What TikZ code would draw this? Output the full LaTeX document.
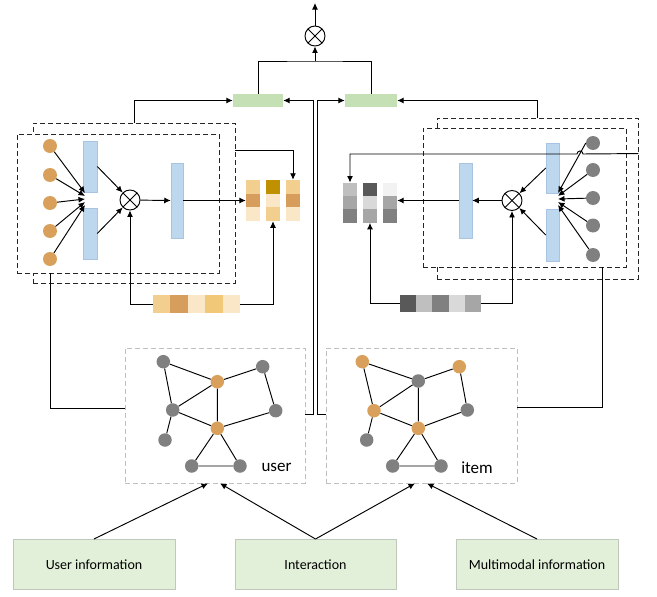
\documentclass[tikz,border=0pt]{standalone}
\usepackage{fontspec}
\setmainfont{Carlito}
\usetikzlibrary{arrows.meta}
\definecolor{barblue}{HTML}{BDD7EE}
\definecolor{barblueline}{HTML}{A9C4E0}
\definecolor{topgreen}{HTML}{C5E0B4}
\definecolor{boxgreen}{HTML}{E2F0D9}
\definecolor{boxline}{HTML}{C0C8BC}
\definecolor{dotorange}{HTML}{D9A05B}
\definecolor{dotgray}{HTML}{808080}
\definecolor{oA}{HTML}{F2CF8E}
\definecolor{oB}{HTML}{D69D5C}
\definecolor{oC}{HTML}{FAE7C8}
\definecolor{oD}{HTML}{BF9000}
\definecolor{oE}{HTML}{F0C878}
\definecolor{gA}{HTML}{BFBFBF}
\definecolor{gB}{HTML}{A6A6A6}
\definecolor{gC}{HTML}{808080}
\definecolor{gD}{HTML}{595959}
\definecolor{gE}{HTML}{D9D9D9}
\definecolor{gF}{HTML}{F2F2F2}
\begin{document}
\begin{tikzpicture}[x=1pt,y=-1pt,
  >={Latex[length=6.5pt,width=6pt]},
  conn/.style={draw=black,line width=0.95pt},
  otimes/.style={circle,draw,line width=0.95pt,minimum size=20pt,inner sep=0pt,fill=white,
    path picture={\draw[line width=0.95pt] (path picture bounding box.north west) -- (path picture bounding box.south east);
                  \draw[line width=0.95pt] (path picture bounding box.north east) -- (path picture bounding box.south west);}},
  bbar/.style={rectangle,fill=barblue,draw=barblueline,line width=0.5pt,inner sep=0pt},
  gbar/.style={rectangle,fill=topgreen,draw=none,inner sep=0pt,minimum width=50pt,minimum height=13pt},
  odot/.style={circle,fill=dotorange,draw=none,inner sep=0pt,minimum size=14pt},
  gdot/.style={circle,fill=dotgray,draw=none,inner sep=0pt,minimum size=14pt},
  ognode/.style={circle,fill=dotorange,draw=none,inner sep=0pt,minimum size=13.5pt},
  ggnode/.style={circle,fill=dotgray,draw=none,inner sep=0pt,minimum size=13.5pt},
  lcell/.style={rectangle,draw=none,inner sep=0pt,minimum width=14pt,minimum height=13.7pt},
  rcell/.style={rectangle,draw=none,inner sep=0pt,minimum width=14pt,minimum height=13.4pt},
  lstripcell/.style={rectangle,draw=none,inner sep=0pt,minimum width=17.4pt,minimum height=18pt},
  rstripcell/.style={rectangle,draw=none,inner sep=0pt,minimum width=16.2pt,minimum height=17pt},
  modbox/.style={rectangle,draw=black!85,dash pattern=on 5pt off 3pt,line width=0.9pt,inner sep=0pt},
  graphbox/.style={rectangle,draw=gA,dash pattern=on 5pt off 3pt,line width=0.8pt,inner sep=0pt},
  infobox/.style={rectangle,fill=boxgreen,draw=boxline,line width=0.6pt,inner sep=0pt,
    minimum height=50pt,font=\fontsize{14}{16}\selectfont},
  glabel/.style={inner sep=0pt,font=\fontsize{17}{19}\selectfont},
  gedge/.style={draw=black,line width=0.95pt}
]
\useasboundingbox (0,0) rectangle (657,597);

% ---------------- top ----------------
\node[otimes] (top) at (315,36) {};
\coordinate (topout) at (315,3);
\coordinate (jn) at (315,61);
\node[gbar] (gl) at (258,100.5) {};
\node[gbar,minimum width=52pt] (gr) at (371,100.5) {};
\draw[conn,->] (top) -- (topout);
\draw[conn] (gl.north) |- (jn) -| (gr.north);
\draw[conn,->] (jn) -- (top.south);

% ---------------- left module ----------------
\node[modbox,minimum width=202pt,minimum height=160pt] (lback) at (134,203) {};
\node[modbox,fill=white,minimum width=202pt,minimum height=139pt] (lfront) at (118,203.5) {};

\node[odot] (lc1) at (50,146) {};
\node[odot] (lc2) at (50,175) {};
\node[odot] (lc3) at (50,203) {};
\node[odot] (lc4) at (50,231) {};
\node[odot] (lc5) at (50,259) {};
\node[bbar,minimum width=14pt,minimum height=51pt] (lb1) at (90,166.5) {};
\node[bbar,minimum width=14pt,minimum height=51pt] (lb2) at (90,233.5) {};
\node[bbar,minimum width=12pt,minimum height=75pt] (lb3) at (177,200.5) {};
\node[otimes] (lx) at (130,200) {};
\coordinate (lt1) at (85,193);
\coordinate (lt2) at (85,196);
\coordinate (lt3) at (85,199);
\coordinate (lt4) at (85,202);
\coordinate (lt5) at (85,205);
\draw[conn,->] (lc1) -- (lt1);
\draw[conn,->] (lc2) -- (lt2);
\draw[conn,->] (lc3) -- (lt3);
\draw[conn,->] (lc4) -- (lt4);
\draw[conn,->] (lc5) -- (lt5);
\draw[conn,->] (lb1.east) -- (lx);
\draw[conn,->] (lb2.east) -- (lx);
\draw[conn,->] (lx) -- (lb3.west);

% left colour blocks
\node[lcell,fill=oA] (lk11) at (253,186.8) {};
\node[lcell,fill=oB] (lk12) at (253,200.5) {};
\node[lcell,fill=oC] (lk13) at (253,214.2) {};
\node[lcell,fill=oD] (lk21) at (273,186.8) {};
\node[lcell,fill=oC] (lk22) at (273,200.5) {};
\node[lcell,fill=oA] (lk23) at (273,214.2) {};
\node[lcell,fill=oA] (lk31) at (293,186.8) {};
\node[lcell,fill=oB] (lk32) at (293,200.5) {};
\node[lcell,fill=oC] (lk33) at (293,214.2) {};
\draw[conn,->] (lb3.east) -- (lk12.west);
\draw[conn,->] ([yshift=-28pt]lback.north east) -| (lk31.north);

% left strip
\node[lstripcell,fill=oA] (ls1) at (161.7,304) {};
\node[lstripcell,fill=oB] (ls2) at (179.1,304) {};
\node[lstripcell,fill=oC] (ls3) at (196.5,304) {};
\node[lstripcell,fill=oE] (ls4) at (213.9,304) {};
\node[lstripcell,fill=oC] (ls5) at (231.3,304) {};
\draw[conn,->] (ls1.west) -| (lx.south);
\draw[conn,->] (ls5.east) -| (lk23.south);

% ---------------- right module ----------------
\node[modbox,minimum width=201pt,minimum height=161pt] (rback) at (537.5,198.5) {};
\node[modbox,fill=white,minimum width=203pt,minimum height=139pt] (rfront) at (524.5,197.5) {};

\node[gdot] (rc1) at (593,143) {};
\node[gdot] (rc2) at (593,170) {};
\node[gdot] (rc3) at (593,198) {};
\node[gdot] (rc4) at (593,225.5) {};
\node[gdot] (rc5) at (593,255) {};
\node[bbar,minimum width=13pt,minimum height=50pt] (rb1) at (552.5,168) {};
\node[bbar,minimum width=13pt,minimum height=52pt] (rb2) at (552.5,235) {};
\node[bbar,minimum width=13pt,minimum height=75pt] (rb3) at (465.5,200.5) {};
\node[otimes] (rx) at (512,200.5) {};
\coordinate (rt1) at (558,193);
\coordinate (rt2) at (558,196);
\coordinate (rt3) at (558,199);
\coordinate (rt4) at (558,202);
\coordinate (rt5) at (558,205);
\draw[conn,->] (rc1.west) -- (rt1);
\draw[conn,->] (rc2) -- (rt2);
\draw[conn,->] (rc3) -- (rt3);
\draw[conn,->] (rc4) -- (rt4);
\draw[conn,->] (rc5) -- (rt5);
\draw[conn,->] (rb1.west) -- (rx);
\draw[conn,->] (rb2.west) -- (rx);
\draw[conn,->] (rx) -- (rb3.east);

% right colour blocks
\node[rcell,fill=gA] (gk11) at (350,189.4) {};
\node[rcell,fill=gB] (gk12) at (350,202.7) {};
\node[rcell,fill=gC] (gk13) at (350,216) {};
\node[rcell,fill=gD] (gk21) at (370,189.4) {};
\node[rcell,fill=gE] (gk22) at (370,202.7) {};
\node[rcell,fill=gB] (gk23) at (370,216) {};
\node[rcell,fill=gF] (gk31) at (390,189.4) {};
\node[rcell,fill=gB] (gk32) at (390,202.7) {};
\node[rcell,fill=gC] (gk33) at (390,216) {};
\draw[conn,->] (rb3.west) -- (rb3.west -| gk32.east);
\coordinate (hopA) at (583,154);
\draw[conn,->] ([yshift=-36pt]rback.north east) -- (hopA) arc[start angle=0,end angle=180,radius=3pt] -| (gk11.north);

% right strip
\node[rstripcell,fill=gD] (gs1) at (408.1,303.5) {};
\node[rstripcell,fill=gA] (gs2) at (424.3,303.5) {};
\node[rstripcell,fill=gC] (gs3) at (440.5,303.5) {};
\node[rstripcell,fill=gE] (gs4) at (456.7,303.5) {};
\node[rstripcell,fill=gB] (gs5) at (472.9,303.5) {};
\draw[conn,->] (gs1.west) -| (gk23.south);
\draw[conn,->] (gs5.east) -| (rx.south);

% ---------------- graphs ----------------
\node[graphbox,minimum width=180pt,minimum height=135pt] (ubox) at (215,415.5) {};
\node[graphbox,minimum width=191pt,minimum height=135pt] (ibox) at (421.5,415.5) {};

\node[ggnode] (u1) at (163.3,361.7) {};
\node[ggnode] (u2) at (262.7,366.7) {};
\node[ognode] (u3) at (217.3,381.7) {};
\node[ggnode] (u4) at (172.7,410) {};
\node[ggnode] (u5) at (275.7,410.7) {};
\node[ognode] (u6) at (217.3,428.3) {};
\node[ggnode] (u7) at (165,440) {};
\node[ggnode] (u8) at (191.7,466) {};
\node[ggnode] (u9) at (240,466) {};
\draw[gedge] (u1) -- (u3) (u1) -- (u4) (u3) -- (u2) (u2) -- (u5) (u3) -- (u4) (u3) -- (u6)
  (u4) -- (u6) (u5) -- (u6) (u4) -- (u7) (u6) -- (u8) (u6) -- (u9) (u8) -- (u9);
\node[glabel] (ulab) at (276.5,467) {user};

\node[ognode] (m1) at (362.3,361.7) {};
\node[ognode] (m2) at (459.3,366.7) {};
\node[ggnode] (m3) at (418.3,381) {};
\node[ognode] (m4) at (374,410.7) {};
\node[ggnode] (m5) at (467.3,410) {};
\node[ognode] (m6) at (418.3,428.3) {};
\node[ggnode] (m7) at (366.7,440) {};
\node[ggnode] (m8) at (392.7,466) {};
\node[ggnode] (m9) at (441,466) {};
\draw[gedge] (m1) -- (m3) (m1) -- (m4) (m3) -- (m2) (m2) -- (m5) (m3) -- (m4) (m3) -- (m6)
  (m4) -- (m6) (m5) -- (m6) (m4) -- (m7) (m6) -- (m8) (m6) -- (m9) (m8) -- (m9);
\node[glabel] (ilab) at (477,468) {item};

% ---------------- connections modules <-> graphs / green bars ----------------
\draw[conn,->] (lback.north) |- (gl.west);
\draw[conn,->] (rback.north) |- (gr.east);
\draw[conn,->] ([yshift=1.5pt]ubox.east) -- ++(8,0) |- (gl.east);
\draw[conn,->] ([yshift=1.5pt]ibox.west) -- ++(-8,0) |- (gr.west);
\draw[conn] (lc5 |- lfront.south) |- ([yshift=7.5pt]ubox.west);
\draw[conn] ([xshift=77.5pt]rfront.south) |- ([yshift=8pt]ibox.east);

% ---------------- bottom boxes ----------------
\node[infobox,minimum width=162pt] (b1) at (94,564.3) {User information};
\node[infobox,minimum width=161pt] (b2) at (315.5,564.3) {Interaction};
\node[infobox,minimum width=162pt] (b3) at (537,564.3) {Multimodal information};
\draw[conn,->] (b1.north) -- ([xshift=-7pt]ubox.south);
\draw[conn,->] (b2.north) -- ([xshift=5pt]ubox.south);
\draw[conn,->] (b2.north) -- ([xshift=-6.5pt]ibox.south);
\draw[conn,->] (b3.north) -- ([xshift=5.5pt]ibox.south);
\end{tikzpicture}
\end{document}
